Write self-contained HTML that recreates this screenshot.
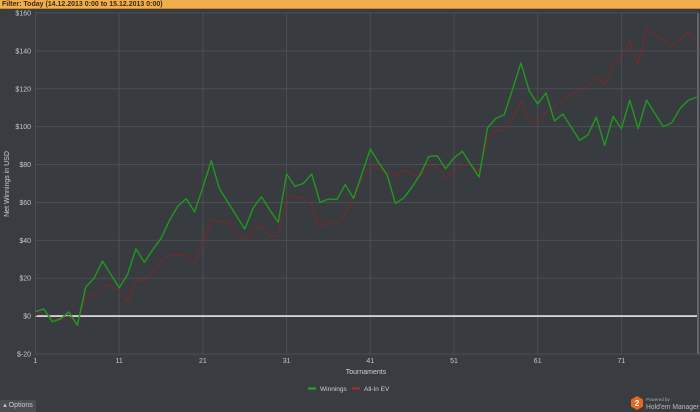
<!DOCTYPE html>
<html><head><meta charset="utf-8">
<style>
html,body{margin:0;padding:0;width:700px;height:412px;overflow:hidden;background:#393c40;font-family:"Liberation Sans",sans-serif;}
#hdr{position:absolute;left:0;top:0;width:700px;height:9px;background:#f2ad4c;border-bottom:1px solid #c88a30;font-size:7px;line-height:9px;color:#3a2a10;padding-left:2px;box-sizing:border-box;}
#opt{position:absolute;left:0;top:400px;width:36px;height:12px;background:#4a4d52;color:#ccc;font-size:7px;line-height:12px;text-align:center;}
#logo{position:absolute;left:630px;top:395px;}
</style></head><body>
<div id="hdr"><b>Filter:</b> <b>Today (14.12.2013 0:00 to 15.12.2013 0:00)</b></div>
<svg id="chart" width="700" height="412" style="position:absolute;left:0;top:0"></svg>
<div id="opt">▴ Options</div>
<svg id="logo" width="70" height="17">
<polygon points="7,1 13,4.5 13,11.5 7,15 1,11.5 1,4.5" fill="#e06a22"/>
<text x="7" y="11" font-size="8" fill="#fff" text-anchor="middle" font-weight="bold" font-family="Liberation Sans">2</text>
<text x="16" y="6" font-size="4.5" fill="#aaa" font-family="Liberation Sans">Powered by</text>
<text x="16" y="14" font-size="7" fill="#bbb" font-family="Liberation Sans" textLength="53" lengthAdjust="spacingAndGlyphs">Hold'em Manager</text>
</svg>
<script>
const winnings=[2.4,3.8,-3,-1.5,2.2,-4.8,15.4,20,29,22,14.9,22,35.5,28.4,35,41,50.5,58,62,55,68,82,67,60,53,46,57,63,56,49.5,75,68.5,70,75,60,61.8,61.5,69.4,62.2,75,88.2,81,74.7,59.5,62.4,68.2,75,84.3,84.6,77.8,83.5,87,80,73.4,99.3,104.4,106.3,119.8,133.6,118.7,112,117.8,103,106.7,99.8,92.8,95.6,105,90.1,105.4,99,114,99,114,107,100,102,109.5,114,115.6];
const allInEV=[0,3.5,-2,-1,0,-4,10.8,10.5,16,16,13,7.8,19,18,24,29,32.5,32,32.5,28,38,51.3,49.5,50,43,41,44.5,48,42,42.5,62.7,63.4,62,58.5,46.7,50.4,48,54,62,72,79.3,78,75.2,74.7,77,74.7,74,80,78.2,73.2,76.5,79.8,79.8,76.4,93.1,97.5,98.4,104,113.4,102.8,102,107.7,110.7,113.7,117,119,121,126.5,122,133.6,137,145,132.7,151.6,148.5,145.5,142.7,146,149.8,144];
const yTicks=[-20,0,20,40,60,80,100,120,140,160];
const xTicks=[1,11,21,31,41,51,61,71];
const NS="http://www.w3.org/2000/svg";
const svg=document.getElementById('chart');
const L=35.5,R=698,T=13,B=354;
const xs=i=>L+(i-1)*8.37;
const ys=v=>B-(v+20)/180*(B-T);
function mk(tag,attrs,parent){const e=document.createElementNS(NS,tag);for(const k in attrs)e.setAttribute(k,attrs[k]);(parent||svg).appendChild(e);return e;}
const plot=mk('rect',{x:L,y:T,width:R-L,height:B-T,fill:'#383b3f',stroke:'#8a8d90','stroke-width':1});


yTicks.forEach(v=>{
  const g=mk('line',{x1:L,x2:R,y1:ys(v),y2:ys(v),stroke:'#4b4e52','stroke-width':1});
  
  
  const t=mk('text',{x:31,y:ys(v)+2.5,'font-size':7,fill:'#c8c8c8','text-anchor':'end'});
  t.textContent=(v<0?'$-'+(-v):'$'+v);
  
  
});
xTicks.forEach(v=>{
  const g=mk('line',{x1:xs(v),x2:xs(v),y1:T,y2:B,stroke:'#4b4e52','stroke-width':1});
  
  
  const t=mk('text',{x:xs(v),y:363,'font-size':7,fill:'#c8c8c8','text-anchor':'middle'});
  t.textContent=v;
  
  
});
const zl=mk('line',{x1:L,x2:R-1,y1:ys(0),y2:ys(0),stroke:'#e8e8e8','stroke-width':1.6});


function series(arr,color,w,name){
  const p=mk('polyline',{points:arr.map((v,i)=>xs(i+1)+','+ys(v)).join(' '),fill:'none',stroke:color,'stroke-width':w,'stroke-linejoin':'round'});
  
  
}
series(allInEV,'#7a2a2a',1,'all-in-ev-line');
series(winnings,'#1f9a1f',1.4,'winnings-line');
const yt=mk('text',{x:9,y:184,'font-size':7,fill:'#d0d0d0','text-anchor':'middle',transform:'rotate(-90 9 184)'});
yt.textContent='Net Winnings in USD';


const xt=mk('text',{x:366,y:374,'font-size':7,fill:'#d0d0d0','text-anchor':'middle'});
xt.textContent='Tournaments';


const l1=mk('line',{x1:308,x2:316,y1:388.5,y2:388.5,stroke:'#22b022','stroke-width':2});


const lt1=mk('text',{x:320,y:391,'font-size':6.5,fill:'#cfcfcf'});
lt1.textContent='Winnings';


const l2=mk('line',{x1:352,x2:360,y1:388.5,y2:388.5,stroke:'#b02a2a','stroke-width':2});


const lt2=mk('text',{x:364,y:391,'font-size':6.5,fill:'#cfcfcf'});
lt2.textContent='All-In EV';


</script>
</body></html>
